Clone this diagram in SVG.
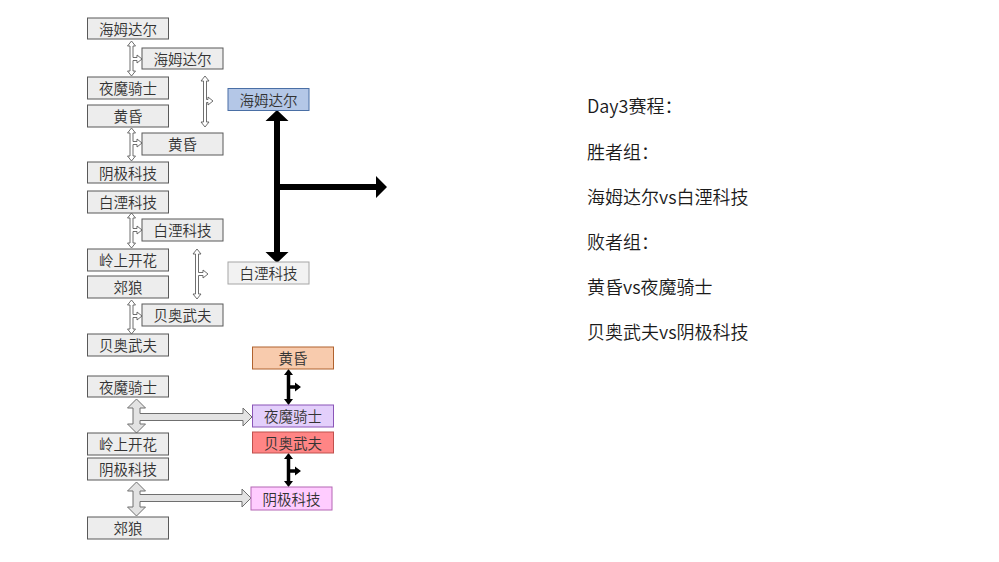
<svg xmlns="http://www.w3.org/2000/svg" width="999" height="562" viewBox="0 0 999 562">
<style>
.box{fill:#ededed;stroke:#595959;stroke-width:1}
.t{font-family:"Noto Sans CJK SC","Liberation Sans",sans-serif;font-size:14.5px;font-weight:350;fill:#333333;text-anchor:middle;dominant-baseline:central}
.rt{font-family:"Noto Sans CJK SC","Liberation Sans",sans-serif;font-size:18px;font-weight:350;fill:#1a1a1a}
.sa{fill:#ffffff;stroke:#5f5f5f;stroke-width:0.9}
.la{fill:#e3e3e3;stroke:#6f6f6f;stroke-width:1}
.ba{fill:#000000}
</style>
<rect width="999" height="562" fill="#ffffff"/>
<g id="connectors">
<path class="sa" d="M131.5,41 L135.5,46 L133,46 L133,57.5 L137,57.5 L137,55 L142,59 L137,63 L137,60.5 L133,60.5 L133,71 L135.5,71 L131.5,76 L127.5,71 L130,71 L130,46 L127.5,46 Z"/>
<path class="sa" d="M205,76 L209,81 L206.5,81 L206.5,99.5 L208,99.5 L208,97 L213,101 L208,105 L208,102.5 L206.5,102.5 L206.5,122 L209,122 L205,127 L201,122 L203.5,122 L203.5,81 L201,81 Z"/>
<path class="sa" d="M131.5,128 L135.5,133 L133,133 L133,141.5 L137,141.5 L137,139 L142,143 L137,147 L137,144.5 L133,144.5 L133,156 L135.5,156 L131.5,161 L127.5,156 L130,156 L130,133 L127.5,133 Z"/>
<path class="sa" d="M131.5,213 L135.5,218 L133,218 L133,228.5 L137,228.5 L137,226 L142,230 L137,234 L137,231.5 L133,231.5 L133,243 L135.5,243 L131.5,248 L127.5,243 L130,243 L130,218 L127.5,218 Z"/>
<path class="sa" d="M197,249 L201,254 L198.5,254 L198.5,272.5 L203,272.5 L203,270 L208,274 L203,278 L203,275.5 L198.5,275.5 L198.5,294 L201,294 L197,299 L193,294 L195.5,294 L195.5,254 L193,254 Z"/>
<path class="sa" d="M131.5,300 L135.5,305 L133,305 L133,314.5 L137,314.5 L137,312 L142,316 L137,320 L137,317.5 L133,317.5 L133,329 L135.5,329 L131.5,334 L127.5,329 L130,329 L130,305 L127.5,305 Z"/>
<path class="la" d="M136.5,399 L145.5,408 L140,408 L140,413.5 L243,413.5 L243,408 L252,417 L243,426 L243,420.5 L140,420.5 L140,424 L145.5,424 L136.5,433 L127.5,424 L133,424 L133,408 L127.5,408 Z"/>
<path class="la" d="M136.5,482 L145.5,491 L140,491 L140,494.5 L242,494.5 L242,489 L251,498 L242,507 L242,501.5 L140,501.5 L140,507 L145.5,507 L136.5,516 L127.5,507 L133,507 L133,491 L127.5,491 Z"/>
<path class="ba" d="M288.5,369 L293,375 L290.25,375 L290.25,385.25 L295,385.25 L295,382.5 L301,387 L295,391.5 L295,388.75 L290.25,388.75 L290.25,399 L293,399 L288.5,405 L284,399 L286.75,399 L286.75,375 L284,375 Z"/>
<path class="ba" d="M288.5,453 L293,459 L290.25,459 L290.25,469.25 L295,469.25 L295,466.5 L301,471 L295,475.5 L295,472.75 L290.25,472.75 L290.25,481 L293,481 L288.5,487 L284,481 L286.75,481 L286.75,459 L284,459 Z"/>
<path class="ba" d="M277,110 L288.5,121 L280,121 L280,184 L376,184 L376,176 L387,187 L376,198 L376,190 L280,190 L280,252 L288.5,252 L277,263 L265.5,252 L274,252 L274,121 L265.5,121 Z"/>
</g>
<g id="n1"><rect class="box" x="87.5" y="18" width="81" height="21"/><text class="t" x="128" y="28">海姆达尔</text></g>
<g id="n2"><rect class="box" x="142" y="48" width="81" height="21"/><text class="t" x="182.5" y="58">海姆达尔</text></g>
<g id="n3"><rect class="box" x="87.5" y="77" width="81" height="22"/><text class="t" x="128" y="87.5">夜魔骑士</text></g>
<g id="n4"><rect class="box" x="87.5" y="105" width="81" height="22"/><text class="t" x="128" y="115.5">黄昏</text></g>
<g id="n5"><rect class="box" x="142" y="133" width="81" height="22"/><text class="t" x="182.5" y="143.5">黄昏</text></g>
<g id="n6"><rect class="box" x="87.5" y="162" width="81" height="21"/><text class="t" x="128" y="172">阴极科技</text></g>
<g id="n7"><rect class="box" x="87.5" y="191" width="81" height="22"/><text class="t" x="128" y="201.5">白湮科技</text></g>
<g id="n8"><rect class="box" x="142" y="219" width="81" height="22"/><text class="t" x="182.5" y="229.5">白湮科技</text></g>
<g id="n9"><rect class="box" x="87.5" y="249" width="81" height="22"/><text class="t" x="128" y="259.5">岭上开花</text></g>
<g id="n10"><rect class="box" x="87.5" y="276" width="81" height="22"/><text class="t" x="128" y="286.5">郊狼</text></g>
<g id="n11"><rect class="box" x="142" y="304" width="81" height="22"/><text class="t" x="182.5" y="314.5">贝奥武夫</text></g>
<g id="n12"><rect class="box" x="87.5" y="334" width="81" height="22"/><text class="t" x="128" y="344.5">贝奥武夫</text></g>
<g id="n13"><rect x="228" y="88.5" width="81" height="22" fill="#b4c7e7" stroke="#4a6fa5" stroke-width="1"/><text class="t" x="268.5" y="99">海姆达尔</text></g>
<g id="n14"><rect x="228" y="262" width="81" height="22" fill="#f2f2f2" stroke="#a6a6a6" stroke-width="1"/><text class="t" x="268.5" y="272.5">白湮科技</text></g>
<g id="n15"><rect class="box" x="87.5" y="376" width="81" height="21"/><text class="t" x="128" y="386">夜魔骑士</text></g>
<g id="n16"><rect class="box" x="87.5" y="433" width="81" height="22"/><text class="t" x="128" y="443.5">岭上开花</text></g>
<g id="n17"><rect class="box" x="87.5" y="458" width="81" height="22"/><text class="t" x="128" y="468.5">阴极科技</text></g>
<g id="n18"><rect class="box" x="87.5" y="517" width="81" height="22"/><text class="t" x="128" y="527.5">郊狼</text></g>
<g id="n19"><rect x="252.5" y="347" width="81" height="22" fill="#f8cbad" stroke="#b0622e" stroke-width="1"/><text class="t" x="293" y="357.5">黄昏</text></g>
<g id="n20"><rect x="252.5" y="405" width="81" height="22" fill="#e3cffb" stroke="#8a55b8" stroke-width="1"/><text class="t" x="293" y="415.5">夜魔骑士</text></g>
<g id="n21"><rect x="252.5" y="432" width="81" height="21" fill="#ff8585" stroke="#c0504d" stroke-width="1"/><text class="t" x="293" y="442">贝奥武夫</text></g>
<g id="n22"><rect x="251" y="487" width="81" height="23" fill="#ffccff" stroke="#b466b4" stroke-width="1"/><text class="t" x="291.5" y="498">阴极科技</text></g>
<g id="notes">
<text class="rt" x="587" y="113">Day3赛程：</text>
<text class="rt" x="587" y="159">胜者组：</text>
<text class="rt" x="587" y="204">海姆达尔vs白湮科技</text>
<text class="rt" x="587" y="249">败者组：</text>
<text class="rt" x="587" y="294">黄昏vs夜魔骑士</text>
<text class="rt" x="587" y="339">贝奥武夫vs阴极科技</text>
</g>
</svg>
